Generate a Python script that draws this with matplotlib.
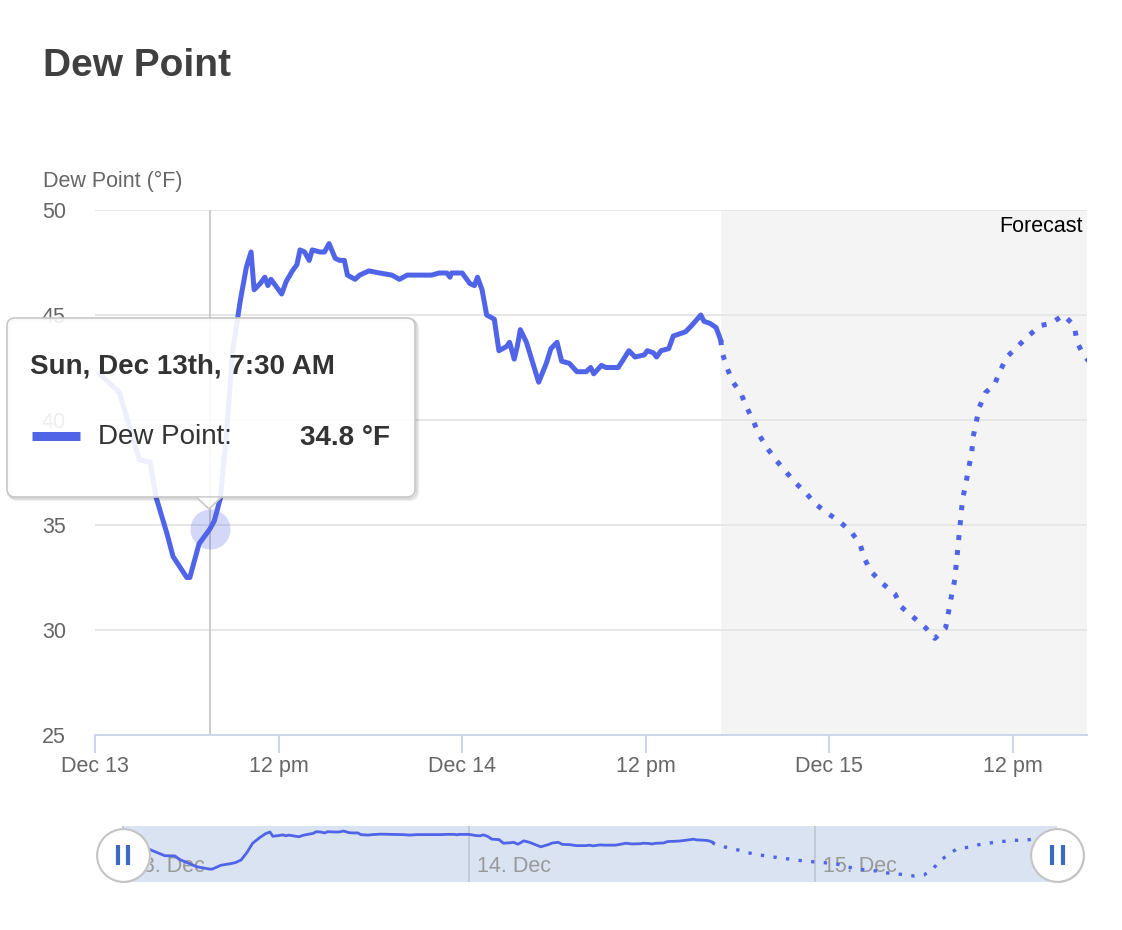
import matplotlib
matplotlib.use('Agg')
import matplotlib.pyplot as plt
from matplotlib.patches import FancyBboxPatch, Polygon

plt.rcParams['font.family'] = ['Liberation Sans', 'DejaVu Sans']

# hours since Dec 13 00:00
obs_hours = [0.3, 1.6, 2.9, 3.6, 4.0, 4.7, 5.1, 6.0, 6.2, 6.8, 7.5, 7.8, 8.2, 8.6, 9.0,
             9.5, 9.9, 10.2, 10.4, 10.8, 11.1, 11.3, 11.5, 11.7, 12.2, 12.5, 12.9, 13.2,
             13.4, 13.7, 14.0, 14.2, 14.7, 15.0, 15.3, 15.7, 16.0, 16.3, 16.5, 17.0, 17.3,
             17.9, 18.6, 19.4, 19.9, 20.4, 22.0, 22.5, 23.0, 23.2, 23.3, 24.0, 24.5, 24.8,
             25.0, 25.3, 25.6, 26.1, 26.4, 26.9, 27.1, 27.4, 27.6, 27.8, 28.2, 29.0, 29.5,
             29.8, 30.2, 30.5, 31.0, 31.5, 32.1, 32.4, 32.6, 33.1, 33.4, 34.2, 34.9, 35.3,
             35.9, 36.1, 36.5, 36.7, 37.0, 37.5, 37.8, 38.2, 38.6, 39.0, 39.6, 39.8, 40.2,
             40.6, 40.9]
obs_dew = [42.2, 41.3, 38.1, 38.0, 36.3, 34.6, 33.5, 32.5, 32.5, 34.1, 34.8, 35.2, 36.3, 39.4, 43.3,
           45.7, 47.3, 48.0, 46.2, 46.5, 46.8, 46.4, 46.7, 46.5, 46.0, 46.6, 47.1, 47.4,
           48.1, 48.0, 47.6, 48.1, 48.0, 48.0, 48.4, 47.7, 47.6, 47.6, 46.9, 46.7, 46.9,
           47.1, 47.0, 46.9, 46.7, 46.9, 46.9, 47.0, 47.0, 46.8, 47.0, 47.0, 46.5, 46.4,
           46.8, 46.2, 45.0, 44.8, 43.3, 43.5, 43.7, 42.9, 43.5, 44.3, 43.7, 41.8, 42.7,
           43.4, 43.7, 42.8, 42.7, 42.3, 42.3, 42.5, 42.2, 42.6, 42.5, 42.5, 43.3, 43.0,
           43.1, 43.3, 43.2, 43.0, 43.3, 43.4, 44.0, 44.1, 44.2, 44.5, 45.0, 44.7, 44.6,
           44.4, 43.8]

fc_hours = [40.9, 41.0, 41.3, 41.7, 42.2, 42.6, 43.0, 43.4, 43.9, 44.5, 45.2, 45.8, 46.5,
            47.1, 47.8, 48.6, 49.4, 50.0, 50.3, 50.7, 51.5, 52.3, 52.7, 53.5, 54.3, 54.9,
            55.6, 55.8, 56.0, 56.2, 56.3, 56.4, 56.5, 56.6, 56.7, 56.9, 57.1, 57.3, 57.4,
            57.6, 57.8, 58.2, 58.8, 59.2, 59.6, 60.3, 61.0, 61.8, 62.5, 63.3, 64.0, 64.2,
            64.6, 65.2, 66.9]
fc_dew = [43.8, 43.2, 42.5, 41.8, 41.3, 40.6, 40.0, 39.3, 38.7, 38.1, 37.5, 37.0, 36.5,
          36.0, 35.6, 35.2, 34.7, 34.1, 33.4, 32.8, 32.2, 31.7, 31.1, 30.6, 30.1, 29.6,
          30.1, 30.9, 31.7, 32.4, 33.2, 33.9, 34.7, 35.4, 36.2, 36.9, 37.7, 38.4, 39.2,
          39.9, 40.6, 41.3, 41.7, 42.4, 43.0, 43.5, 44.0, 44.5, 44.6, 45.0, 44.5, 43.7,
          43.1, 42.6, 42.0]

tick_hours = [0, 12, 24, 36, 48, 60]
tick_labels = ['Dec 13', '12 pm', 'Dec 14', '12 pm', 'Dec 15', '12 pm']
nav_days = [0, 24, 48]
nav_labels = ['13. Dec', '14. Dec', '15. Dec']
forecast_start = 40.9
x_end = 64.84
hover_hour = 7.5
hover_value = 34.8
hover_label = 'Sun, Dec 13th, 7:30 AM'

blue = '#5064e8'
W, H = 1122, 930

fig = plt.figure(figsize=(W / 100, H / 100), dpi=100)

# main chart
ax = fig.add_axes([95 / W, 1 - 735 / H, 992 / W, 525 / H])
ax.set_xlim(0, x_end)
ax.set_ylim(25, 50)
ax.axvspan(forecast_start, x_end, color='#f4f4f4', lw=0, zorder=0.2)
ax.yaxis.grid(True, color='#e6e6e6', lw=1.4)
ax.set_axisbelow(True)
for s in ['left', 'top', 'right']:
    ax.spines[s].set_visible(False)
ax.spines['bottom'].set_color('#ccd6eb')
ax.spines['bottom'].set_linewidth(1.4)
ax.set_yticks([25, 30, 35, 40, 45, 50])
ax.set_xticks(tick_hours)
ax.set_xticklabels(tick_labels)
ax.tick_params(axis='y', length=0, pad=21, labelsize=15.5, labelcolor='#666666')
ax.tick_params(axis='x', length=13, width=1.4, color='#ccd6eb', pad=2,
               labelsize=15.5, labelcolor='#666666')

ax.axvline(hover_hour, color='#cccccc', lw=1.4, zorder=1.5)
ax.plot(obs_hours, obs_dew, color=blue, lw=3.6, solid_joinstyle='round', zorder=3)
ax.plot(fc_hours, fc_dew, color=blue, lw=3.6, ls=(0, (1, 2)), dash_capstyle='butt', zorder=3)
ax.scatter([hover_hour], [hover_value], s=830, color=blue, alpha=0.25, lw=0, zorder=4)
ax.text(0.996, 1 - 17 / 525, 'Forecast', transform=ax.transAxes, ha='right', va='center',
        fontsize=15.5, color='black')

fig.text(43 / W, 1 - 66 / H, 'Dew Point', fontsize=28, fontweight='bold', color='#404040',
         va='center')
fig.text(43 / W, 1 - 181 / H, 'Dew Point (°F)', fontsize=15.5, color='#666666', va='center')

# navigator
nav = fig.add_axes([95 / W, 1 - 882 / H, 992 / W, 56 / H])
nav.set_xlim(-1.94, 66.9)
nav.set_ylim(27.1, 50.5)
nav.axis('off')
nav.axvspan(0, x_end, color='#dae3f1', lw=0, zorder=0)
for d, lab in zip(nav_days, nav_labels):
    nav.axvline(d, color='#c2cad6', lw=1.4, zorder=1)
    nav.text(d + 0.55, 0.27, lab, transform=nav.get_xaxis_transform(), fontsize=15.5,
             color='#999999', va='center', zorder=1.5)
nav.plot(obs_hours, obs_dew, color=blue, lw=2, zorder=2)
nav.plot(fc_hours, fc_dew, color=blue, lw=2.4, ls=(0, (1, 2.8)), zorder=2)
tr = nav.get_xaxis_transform()
for hx in [0, x_end]:
    nav.plot([hx + 0.08], [0.46], marker='o', ms=38, mfc='#dddddd', mec='none',
             transform=tr, clip_on=False, zorder=4.9)
    nav.plot([hx], [0.48], marker='o', ms=38, mfc='white', mec='#c4c4c4', mew=1.5,
             transform=tr, clip_on=False, zorder=5)
    nav.plot([hx - 0.37, hx + 0.37], [0.48, 0.48], ls='none', marker='|', ms=14, mew=3,
             color='#3b6bc0', transform=tr, clip_on=False, zorder=6)

# tooltip overlay (pixel coordinates)
ov = fig.add_axes([0, 0, 1, 1], zorder=10)
ov.set_xlim(0, W)
ov.set_ylim(H, 0)
ov.axis('off')
ov.patch.set_alpha(0)
for off, a in [(3, 0.04), (2, 0.06), (1, 0.08)]:
    ov.add_patch(FancyBboxPatch((7 + off, 318 + off), 408, 179,
                                boxstyle='round,pad=0,rounding_size=8',
                                fc='none', ec=(0, 0, 0, a), lw=2))
ov.add_patch(FancyBboxPatch((7, 318), 408, 179, boxstyle='round,pad=0,rounding_size=8',
                            fc=(1, 1, 1, 0.9), ec='#c8c8c8', lw=1.2))
ov.add_patch(Polygon([(197, 497.6), (221, 497.6), (209, 509)], closed=True,
                     fc=(1, 1, 1, 0.9), ec='none'))
ov.plot([197, 209, 221], [497.6, 509, 497.6], color='#c8c8c8', lw=1.2)
ov.text(30, 366, hover_label, fontsize=20, fontweight='bold', color='#333333', va='center')
ov.plot([32, 80], [436, 436], color=blue, lw=6.5, solid_capstyle='butt')
ov.text(98, 437, 'Dew Point:', fontsize=20, color='#333333', va='center')
ov.text(390, 438, f'{hover_value} °F', fontsize=20, fontweight='bold', color='#333333',
        va='center', ha='right')

fig.savefig('out.png', dpi=100)
